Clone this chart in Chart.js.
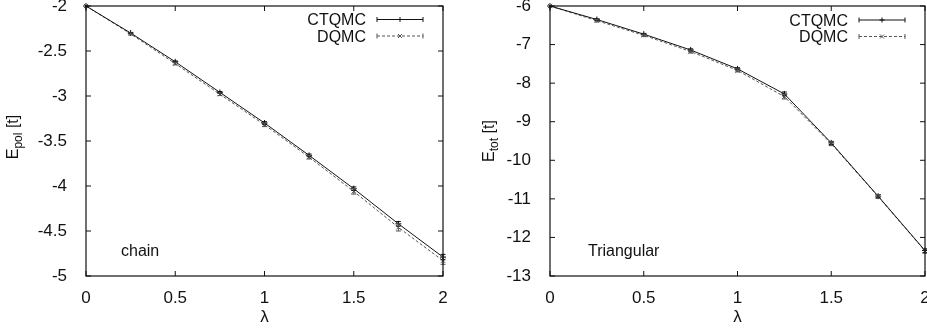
<!DOCTYPE html>
<html>
<head>
<meta charset="utf-8">
<script src="https://cdn.jsdelivr.net/npm/chart.js@4.4.1/dist/chart.umd.min.js"></script>
<style>
  html, body { margin: 0; padding: 0; background: #fff; }
  #wrap { position: relative; width: 927px; height: 336px; overflow: hidden; }
  .panel { position: absolute; top: 0; }
</style>
</head>
<body>
<div id="wrap">
  <canvas id="chain" class="panel" style="left:0" width="465" height="336"></canvas>
  <canvas id="tri" class="panel" style="left:465px" width="472" height="336"></canvas>
</div>
<script>
// coupling strength
const lambda = [0, 0.25, 0.5, 0.75, 1.0, 1.25, 1.5, 1.75, 2.0];

// 1D chain, polaron energy
const chainCTQMC    = [-2.00, -2.30, -2.62, -2.96, -3.30, -3.66, -4.03, -4.42, -4.79];
const chainCTQMCErr = [0, 0.005, 0.01, 0.01, 0.015, 0.015, 0.02, 0.025, 0.03];
const chainDQMC     = [-2.00, -2.31, -2.64, -2.98, -3.32, -3.68, -4.06, -4.46, -4.83];
const chainDQMCErr  = [0, 0.01, 0.015, 0.015, 0.02, 0.02, 0.03, 0.04, 0.04];

// triangular lattice, total energy
const triCTQMC    = [-6.00, -6.35, -6.73, -7.14, -7.63, -8.28, -9.55, -10.93, -12.34];
const triCTQMCErr = [0, 0.02, 0.02, 0.03, 0.03, 0.05, 0.04, 0.04, 0.05];
const triDQMC     = [-6.00, -6.38, -6.76, -7.18, -7.67, -8.35, -9.57, -10.94, -12.35];
const triDQMCErr  = [0, 0.03, 0.03, 0.04, 0.04, 0.06, 0.05, 0.05, 0.06];

const seriesNames = ['CTQMC', 'DQMC'];
const xTicks = [0, 0.5, 1, 1.5, 2];

const FONT = 'Liberation Sans, Arial, Helvetica, sans-serif';
const INK = '#111';

function toPoints(ys) {
  return lambda.map((x, i) => ({ x: x, y: ys[i] }));
}

// plain number labels: 2 not 2.0
const plainLabel = v => String(Math.round(v * 100) / 100);

// gnuplot-like frame, inward ticks, error bars, key and labels
const gnuplotDecor = {
  id: 'gnuplotDecor',
  afterDatasetsDraw(chart, args, opts) {
    const ctx = chart.ctx;
    const area = chart.chartArea;
    const xs = chart.scales.x, ys = chart.scales.y;
    ctx.save();

    // error bars
    chart.data.datasets.forEach((ds, di) => {
      const meta = chart.getDatasetMeta(di);
      ctx.strokeStyle = ds.borderColor;
      ctx.lineWidth = 1;
      ctx.setLineDash([]);
      meta.data.forEach((pt, i) => {
        const e = ds.errors[i];
        if (!e) return;
        const v = ds.data[i].y;
        const y1 = ys.getPixelForValue(v - e), y2 = ys.getPixelForValue(v + e);
        ctx.beginPath();
        ctx.moveTo(pt.x, y1); ctx.lineTo(pt.x, y2);
        ctx.moveTo(pt.x - 2.5, y1); ctx.lineTo(pt.x + 2.5, y1);
        ctx.moveTo(pt.x - 2.5, y2); ctx.lineTo(pt.x + 2.5, y2);
        ctx.stroke();
      });
    });

    // frame
    ctx.strokeStyle = INK;
    ctx.lineWidth = 1.2;
    ctx.strokeRect(area.left, area.top, area.right - area.left, area.bottom - area.top);

    // inward ticks on all four sides
    const tl = 5;
    ctx.lineWidth = 1;
    ctx.beginPath();
    xs.ticks.forEach(t => {
      const px = xs.getPixelForValue(t.value);
      ctx.moveTo(px, area.bottom); ctx.lineTo(px, area.bottom - tl);
      ctx.moveTo(px, area.top); ctx.lineTo(px, area.top + tl);
    });
    ys.ticks.forEach(t => {
      const py = ys.getPixelForValue(t.value);
      ctx.moveTo(area.left, py); ctx.lineTo(area.left + tl, py);
      ctx.moveTo(area.right, py); ctx.lineTo(area.right - tl, py);
    });
    ctx.stroke();

    // key
    ctx.font = '16px ' + FONT;
    ctx.fillStyle = INK;
    ctx.textAlign = 'right';
    ctx.textBaseline = 'alphabetic';
    chart.data.datasets.forEach((ds, di) => {
      const ly = opts.keyY + di * 16.5;
      ctx.fillText(ds.label, opts.keyTextRight, ly + 5.5);
      const x0 = opts.keyTextRight + 11, x1 = x0 + 46, xm = (x0 + x1) / 2;
      ctx.strokeStyle = ds.borderColor;
      ctx.lineWidth = 1;
      ctx.setLineDash(ds.borderDash || []);
      ctx.beginPath();
      ctx.moveTo(x0, ly); ctx.lineTo(x1, ly);
      ctx.stroke();
      ctx.setLineDash([]);
      ctx.beginPath();
      ctx.moveTo(x0, ly - 2.5); ctx.lineTo(x0, ly + 2.5);
      ctx.moveTo(x1, ly - 2.5); ctx.lineTo(x1, ly + 2.5);
      if (ds.pointStyle === 'cross') {
        ctx.moveTo(xm - 2.5, ly); ctx.lineTo(xm + 2.5, ly);
        ctx.moveTo(xm, ly - 2.5); ctx.lineTo(xm, ly + 2.5);
      } else {
        ctx.moveTo(xm - 2, ly - 2); ctx.lineTo(xm + 2, ly + 2);
        ctx.moveTo(xm - 2, ly + 2); ctx.lineTo(xm + 2, ly - 2);
      }
      ctx.stroke();
    });

    // system label inside the plot
    ctx.textAlign = 'left';
    ctx.fillStyle = INK;
    ctx.fillText(opts.tag, opts.tagX, 256);

    // y title with subscript, rotated
    ctx.translate(opts.titleX, opts.titleY);
    ctx.rotate(-Math.PI / 2);
    const main = '16px ' + FONT, sub = '12px ' + FONT;
    ctx.font = main; const wE = ctx.measureText('E').width;
    ctx.font = sub; const wS = ctx.measureText(opts.sub).width;
    ctx.font = main; const wR = ctx.measureText(' [t]').width;
    let x = -(wE + wS + wR) / 2;
    ctx.textAlign = 'left';
    ctx.fillText('E', x, 0); x += wE;
    ctx.font = sub; ctx.fillText(opts.sub, x, 4); x += wS;
    ctx.font = main; ctx.fillText(' [t]', x, 0);

    ctx.restore();
  }
};

function makePanel(id, ctq, ctqErr, dq, dqErr, yMin, yMax, yStep, yAxisWidth, padRight, decor) {
  return new Chart(document.getElementById(id), {
    type: 'scatter',
    data: {
      datasets: [
        {
          label: seriesNames[0],
          data: toPoints(ctq),
          errors: ctqErr,
          showLine: true,
          borderColor: '#111',
          backgroundColor: '#111',
          borderWidth: 1,
          pointStyle: 'cross',
          pointRadius: 3,
          pointBorderWidth: 1,
          clip: false
        },
        {
          label: seriesNames[1],
          data: toPoints(dq),
          errors: dqErr,
          showLine: true,
          borderColor: '#555',
          backgroundColor: '#555',
          borderWidth: 1,
          borderDash: [3, 2],
          pointStyle: 'crossRot',
          pointRadius: 3,
          pointBorderWidth: 1,
          clip: false
        }
      ]
    },
    options: {
      responsive: false,
      animation: false,
      events: [],
      layout: { padding: { top: 6, right: padRight, left: 0, bottom: 0 } },
      plugins: {
        legend: { display: false },
        tooltip: { enabled: false },
        gnuplotDecor: decor
      },
      scales: {
        x: {
          type: 'linear',
          min: 0, max: 2,
          afterBuildTicks: s => { s.ticks = xTicks.map(v => ({ value: v })); },
          grid: { display: false },
          border: { display: false },
          ticks: { color: INK, font: { family: FONT, size: 17 }, padding: 4, maxRotation: 0, callback: plainLabel },
          title: { display: true, text: 'λ', color: INK, font: { family: FONT, size: 17 }, padding: { top: 4, bottom: 8 } },
          afterFit: s => { s.height = 60; s.paddingLeft = 0; s.paddingRight = 0; }
        },
        y: {
          min: yMin, max: yMax,
          ticks: { stepSize: yStep, color: INK, font: { family: FONT, size: 17 }, padding: 11, callback: plainLabel },
          grid: { display: false },
          border: { display: false },
          afterFit: s => { s.width = yAxisWidth; s.paddingTop = 0; s.paddingBottom = 0; }
        }
      }
    },
    plugins: [gnuplotDecor]
  });
}

makePanel('chain', chainCTQMC, chainCTQMCErr, chainDQMC, chainDQMCErr, -5, -2, 0.5, 86, 22,
  { keyY: 19.5, keyTextRight: 366, tag: 'chain', tagX: 121, titleX: 18, titleY: 137, sub: 'pol' });

makePanel('tri', triCTQMC, triCTQMCErr, triDQMC, triDQMCErr, -13, -6, 1, 85, 12,
  { keyY: 20, keyTextRight: 383, tag: 'Triangular', tagX: 123, titleX: 29, titleY: 141, sub: 'tot' });
</script>
</body>
</html>
